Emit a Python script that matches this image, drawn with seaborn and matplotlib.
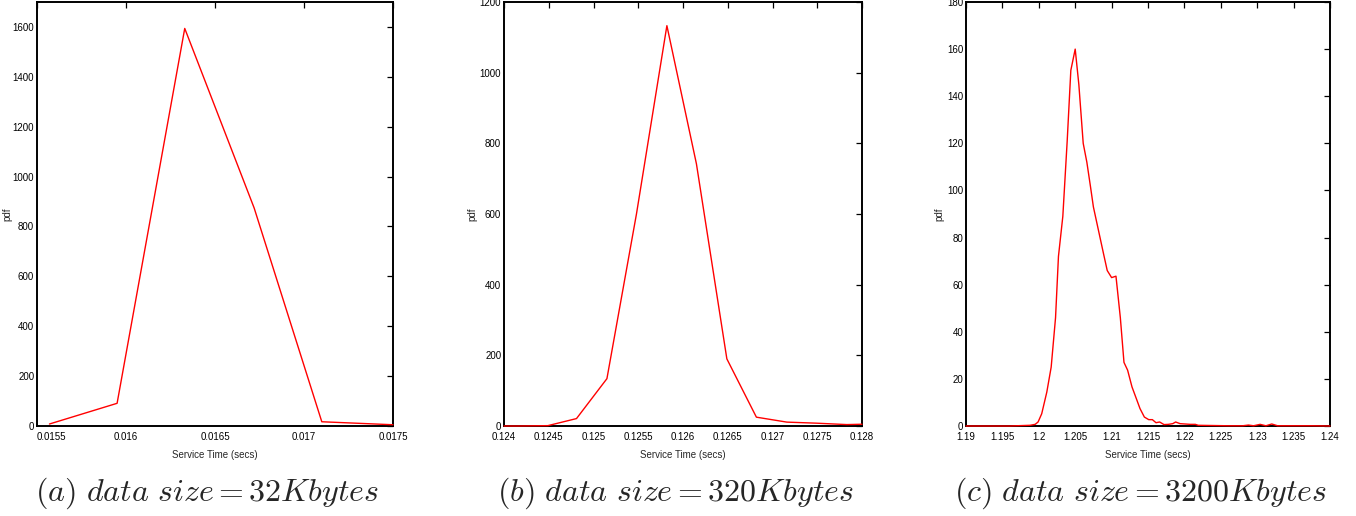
import matplotlib
matplotlib.use("Agg")
import matplotlib.pyplot as plt
import seaborn as sns
import pandas as pd
from matplotlib import font_manager

# ---------------- data ----------------
# (a) 32 Kbytes
x_a = [0.01557, 0.01595, 0.01633, 0.01672, 0.01710, 0.01750]
y_a = [8, 91, 1594, 874, 17, 5]

# (b) 320 Kbytes
x_b = [0.12400, 0.12416, 0.12449, 0.12481, 0.12515, 0.12548, 0.12582,
       0.12615, 0.12649, 0.12682, 0.12716, 0.12749, 0.12783, 0.12800]
y_b = [0, 0, 1, 21, 134, 600, 1133, 742, 190, 25, 11, 8, 4, 5]

# (c) 3200 Kbytes
x_c = [1.1900, 1.1960, 1.1988, 1.1995, 1.1999, 1.2004, 1.2011, 1.2017, 1.2023,
       1.2027, 1.2033, 1.2039, 1.2044, 1.2050, 1.2055, 1.2061, 1.2066, 1.2071,
       1.2075, 1.2082, 1.2089, 1.2094, 1.2100, 1.2106, 1.2112, 1.2117, 1.2122,
       1.2128, 1.2134, 1.2139, 1.2145, 1.2151, 1.2156, 1.2161, 1.2166, 1.2172,
       1.2178, 1.2184, 1.2188, 1.2194, 1.2201, 1.2208, 1.2215, 1.2219, 1.2240,
       1.2260, 1.2280, 1.2288, 1.2295, 1.2304, 1.2312, 1.2320, 1.2328, 1.2350,
       1.2375, 1.2400]
y_c = [0, 0, 0.3, 0.7, 1.7, 5.2, 14.4, 25, 46,
       72, 89, 121, 151, 160, 145, 120, 112, 101.6,
       93, 83, 73, 66, 63, 63.6, 46, 27, 23.7,
       16.6, 11.6, 7.4, 3.8, 2.7, 2.7, 1.4, 1.7, 0.6,
       0.7, 1.0, 1.7, 1.0, 0.85, 0.7, 0.7, 0.3, 0.2,
       0.1, 0.1, 0.4, 0.1, 0.7, 0.1, 0.85, 0.1, 0.1,
       0.1, 0.0]

xticks_a = [0.0155, 0.016, 0.0165, 0.017, 0.0175]
xlabels_a = ["0.0155", "0.016", "0.0165", "0.017", "0.0175"]
yticks_a = [0, 200, 400, 600, 800, 1000, 1200, 1400, 1600]

xticks_b = [0.124, 0.1245, 0.125, 0.1255, 0.126, 0.1265, 0.127, 0.1275, 0.128]
xlabels_b = ["0.124", "0.1245", "0.125", "0.1255", "0.126", "0.1265", "0.127", "0.1275", "0.128"]
yticks_b = [0, 200, 400, 600, 800, 1000, 1200]

xticks_c = [1.19, 1.195, 1.2, 1.205, 1.21, 1.215, 1.22, 1.225, 1.23, 1.235, 1.24]
xlabels_c = ["1.19", "1.195", "1.2", "1.205", "1.21", "1.215", "1.22", "1.225", "1.23", "1.235", "1.24"]
yticks_c = [0, 20, 40, 60, 80, 100, 120, 140, 160, 180]

captions = [r"$(a)\ data\ size = 32Kbytes$",
            r"$(b)\ data\ size = 320Kbytes$",
            r"$(c)\ data\ size = 3200Kbytes$"]

# ---------------- style ----------------
sns.set_theme(style="white")
names = {f.name for f in font_manager.fontManager.ttflist}
if "Liberation Sans Narrow" in names:
    small_family = ["Liberation Sans Narrow", "DejaVu Sans"]
    small_size = 8.0
else:
    small_family = ["Liberation Sans", "DejaVu Sans"]
    small_size = 7.0
plt.rcParams["font.family"] = small_family
plt.rcParams["mathtext.fontset"] = "cm"

W, H = 1356, 516
fig = plt.figure(figsize=(W / 100, H / 100), dpi=100)

def px_axes(left, right, top, bottom):
    return fig.add_axes([left / W, 1 - bottom / H, (right - left) / W, (bottom - top) / H])

panels = [
    (px_axes(37, 393, 2, 426), x_a, y_a, (0.0155, 0.0175), (0, 1700), xticks_a, xlabels_a, yticks_a, 12),
    (px_axes(504, 862, 2, 426), x_b, y_b, (0.124, 0.128), (0, 1200), xticks_b, xlabels_b, yticks_b, 477),
    (px_axes(966, 1330, 2, 426), x_c, y_c, (1.19, 1.24), (0, 180), xticks_c, xlabels_c, yticks_c, 944),
]

for i, (ax, xs, ys, xl, yl, xt, xtl, yt, ylab_px) in enumerate(panels):
    df = pd.DataFrame({"x": xs, "y": ys})
    sns.lineplot(data=df, x="x", y="y", ax=ax, color="#ff0000", linewidth=1.0,
                 estimator=None, sort=False, zorder=4, clip_on=False)
    ax.set_xlim(*xl)
    ax.set_ylim(*yl)
    ax.set_xticks(xt, xtl)
    ax.set_yticks(yt, [str(v) for v in yt])
    ax.tick_params(direction="in", top=True, right=True, length=4, width=0.9,
                   labelsize=small_size, colors="black")
    ax.tick_params(axis="y", pad=2)
    ax.tick_params(axis="x", pad=4)
    for s in ax.spines.values():
        s.set_visible(True)
        s.set_color("black")
        s.set_linewidth(1.4)
    ax.set_xlabel("Service Time (secs)", fontsize=small_size)
    ax.set_ylabel("pdf", fontsize=small_size)
    pos = ax.get_position()
    left_px = pos.x0 * W
    width_px = pos.width * W
    ax.yaxis.set_label_coords((ylab_px - left_px) / width_px, 0.5)
    ax.xaxis.set_label_coords(0.5, -(450 - 426) / 424)
    fig.text(pos.x0 + pos.width / 2 - 8 / W, 1 - 493 / H, captions[i],
             ha="center", va="center", fontsize=23)
    if i == 0:
        ax.get_xticklabels()[0].set_horizontalalignment("left")

fig.savefig("out.png", dpi=100)
